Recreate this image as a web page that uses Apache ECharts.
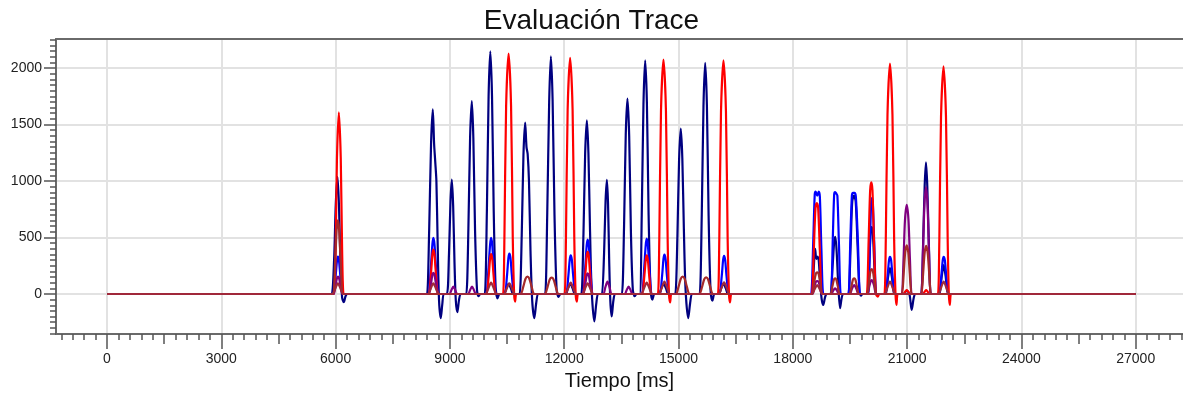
<!DOCTYPE html>
<html>
<head>
<meta charset="utf-8">
<script src="https://cdn.jsdelivr.net/npm/echarts@6/dist/echarts.min.js"></script>
<style>
html,body{margin:0;padding:0;background:#fff;}
#chart{width:1183px;height:396px;}
</style>
</head>
<body>
<div id="chart"></div>
<script>
// ---- texts ----
const tituloGrafico = 'Evaluación Trace';
const tituloEjeX = 'Tiempo [ms]';

// ---- tick labels ----
const xTicks = [0, 3000, 6000, 9000, 12000, 15000, 18000, 21000, 24000, 27000];
const xTicksMedios = [1500, 4500, 7500, 10500, 13500, 16500, 19500, 22500, 25500];
const yTicks = [0, 500, 1000, 1500, 2000];

// ---- series values: [tiempo ms, valor] ----
const serieAzulOscuro = [
[0,0],[5860,0],
[5900,0],[5960,300],[6005,800],[6050,1036],[6090,760],[6130,250],[6170,-30],[6215,-73],[6260,-20],[6300,0],
[6340,0],[8360,0],
[8400,0],[8455,560],[8505,1330],[8550,1635],[8585,1330],[8615,1170],[8645,1000],[8680,420],[8715,-60],[8760,-214],[8800,-90],[8840,0],
[8920,0],[8975,350],[9015,820],[9050,1012],[9085,780],[9120,280],[9155,-60],[9195,-161],[9240,-50],[9280,0],
[9320,0],[9390,0],
[9430,0],[9485,580],[9530,1390],[9575,1708],[9615,1380],[9660,560],[9710,40],[9750,-20],[9800,0],
[9840,0],[9875,0],
[9915,0],[9970,730],[10015,1750],[10060,2148],[10105,1750],[10150,730],[10200,60],[10250,-38],[10300,0],
[10340,0],[10380,0],
[10420,0],[10480,50],[10540,90],[10600,50],[10660,0],
[10700,0],[10790,0],
[10830,0],[10885,520],[10930,1230],[10975,1517],[11010,1300],[11040,1240],[11075,1000],[11115,380],[11160,-60],[11215,-214],[11265,-80],[11310,0],
[11350,0],[11460,0],
[11500,0],[11555,720],[11605,1700],[11650,2104],[11695,1720],[11745,700],[11800,40],[11850,-25],[11900,0],
[11940,0],[12000,0],
[12040,0],[12100,50],[12160,90],[12220,50],[12280,0],
[12320,0],[12410,0],
[12450,0],[12505,530],[12550,1250],[12595,1538],[12635,1250],[12675,600],[12720,40],[12790,-243],[12840,-90],[12885,0],
[12925,0],[12950,0],
[12990,0],[13045,350],[13085,820],[13120,1010],[13150,800],[13180,300],[13210,-60],[13245,-199],[13290,-60],[13330,0],
[13370,0],[13475,0],
[13515,0],[13570,590],[13615,1410],[13660,1729],[13705,1400],[13750,560],[13800,40],[13850,-20],[13900,0],
[13980,0],[14035,700],[14080,1680],[14125,2069],[14170,1690],[14215,700],[14265,50],[14315,-50],[14365,0],
[14405,0],[14450,0],
[14490,0],[14550,50],[14610,90],[14670,50],[14730,0],
[14770,0],[14875,0],
[14915,0],[14970,500],[15015,1190],[15060,1465],[15100,1200],[15140,580],[15185,40],[15255,-214],[15305,-80],[15350,0],
[15390,0],[15515,0],
[15555,0],[15610,700],[15655,1660],[15700,2046],[15745,1670],[15790,690],[15840,40],[15890,-60],[15940,0],
[15980,0],[16020,0],
[16060,0],[16120,50],[16180,90],[16240,50],[16300,0],
[16340,0],[18460,0],
[18500,0],[18545,200],[18585,400],[18620,310],[18660,330],[18710,150],[18755,-40],[18800,-97],[18845,-30],[18885,0],
[18925,0],[18950,0],
[18990,0],[19045,250],[19090,480],[19115,505],[19150,380],[19190,100],[19240,-126],[19285,-30],[19320,0],
[19360,0],[19420,0],
[19460,0],[19520,450],[19560,820],[19605,870],[19650,820],[19700,420],[19750,20],[19790,-15],[19830,0],
[19870,0],[19920,0],
[19960,0],[20010,300],[20045,560],[20070,593],[20100,540],[20140,250],[20190,0],
[20230,0],[20400,0],
[20440,0],[20500,150],[20550,230],[20600,150],[20660,0],
[20700,0],[20860,0],
[20900,0],[20990,30],[21060,0],[21120,-141],[21170,-40],[21210,0],
[21250,0],[21330,0],
[21370,0],[21420,450],[21460,950],[21495,1165],[21530,950],[21570,450],[21620,0],
[21660,0],[21810,0],
[21850,0],[21910,160],[21960,255],[22010,160],[22070,0],
[22110,0],[27000,0]
];

const serieAzul = [
[0,0],[5900,0],
[5940,0],[6000,160],[6035,290],[6060,330],[6090,290],[6125,160],[6185,0],[6225,0],
[8400,0],
[8440,0],[8500,240],[8540,440],[8565,496],[8595,440],[8635,240],[8695,0],[8735,0],
[9915,0],
[9955,0],[10015,240],[10055,440],[10080,496],[10110,440],[10150,240],[10210,0],[10250,0],
[10400,0],
[10440,0],[10500,170],[10535,320],[10560,358],[10590,320],[10625,170],[10685,0],[10725,0],
[12010,0],
[12050,0],[12110,165],[12145,305],[12170,343],[12200,305],[12235,165],[12295,0],[12335,0],
[12450,0],
[12490,0],[12550,230],[12590,430],[12615,481],[12645,430],[12685,230],[12745,0],[12785,0],
[14000,0],
[14040,0],[14100,235],[14140,435],[14165,490],[14195,435],[14235,235],[14295,0],[14335,0],
[14470,0],
[14510,0],[14570,165],[14605,310],[14630,349],[14660,310],[14695,165],[14755,0],[14795,0],
[16035,0],
[16075,0],[16135,160],[16170,300],[16195,338],[16225,300],[16260,160],[16320,0],[16360,0],
[18440,0],
[18480,0],[18535,450],[18575,880],[18600,907],[18640,870],[18680,907],[18710,860],[18750,400],[18800,0],[18840,0],
[18960,0],
[19000,0],[19050,500],[19085,880],[19110,901],[19140,890],[19170,870],[19210,450],[19260,0],[19300,0],
[19420,0],
[19460,0],[19510,480],[19550,870],[19580,895],[19620,895],[19655,860],[19710,450],[19765,0],[19805,0],
[19940,0],
[19980,0],[20025,450],[20055,800],[20075,848],[20100,800],[20140,420],[20190,0],[20230,0],
[20390,0],
[20430,0],[20490,170],[20525,300],[20550,329],[20580,300],[20615,170],[20675,0],[20715,0],
[21800,0],
[21840,0],[21900,170],[21935,300],[21960,329],[21990,300],[22025,170],[22085,0],[22125,0],
[27000,0]
];

const serieRoja = [
[0,0],[5920,0],
[5960,0],[6000,400],[6035,1200],[6085,1607],[6135,1200],[6170,400],[6210,0],[6250,0],
[8405,0],
[8445,0],[8505,190],[8540,350],[8565,393],[8595,350],[8630,190],[8690,0],[8730,0],
[9920,0],
[9960,0],[10020,170],[10055,315],[10080,352],[10110,315],[10145,170],[10205,0],[10245,0],
[10355,0],
[10395,0],[10430,490],[10475,1660],[10540,2128],[10605,1660],[10650,490],[10685,0],[10710,-67],[10740,0],[10780,0],
[11970,0],
[12010,0],[12045,480],[12090,1630],[12155,2090],[12220,1630],[12265,480],[12300,0],[12330,-67],[12360,0],
[12400,0],[12455,0],
[12495,0],[12555,180],[12590,335],[12615,373],[12645,335],[12680,180],[12740,0],[12780,0],
[14005,0],
[14045,0],[14105,165],[14140,305],[14165,343],[14195,305],[14230,165],[14290,0],[14330,0],
[14420,0],
[14460,0],[14495,475],[14540,1620],[14605,2075],[14670,1620],[14715,475],[14750,0],[14780,-75],[14810,0],[14850,0],
[15995,0],
[16035,0],[16070,475],[16115,1615],[16180,2069],[16245,1615],[16290,475],[16325,0],[16350,-75],[16385,0],[16425,0],
[18460,0],
[18500,0],[18550,380],[18595,760],[18630,805],[18665,760],[18710,380],[18760,0],[18800,0],
[19900,0],
[19940,0],[19990,470],[20030,920],[20060,989],[20090,920],[20130,470],[20180,0],[20230,-23],[20270,0],
[20310,0],[20365,0],
[20405,0],[20440,470],[20485,1590],[20550,2040],[20615,1590],[20660,470],[20695,0],[20720,-97],[20750,0],[20790,0],
[20860,0],
[20900,0],[20960,25],[20990,35],[21020,25],[21080,0],[21120,0],
[21370,0],
[21410,0],[21470,25],[21500,35],[21530,25],[21590,0],[21630,0],
[21770,0],
[21810,0],[21845,465],[21890,1570],[21955,2016],[22020,1570],[22065,465],[22095,0],[22120,-97],[22150,0],[22190,0],
[27000,0]
];

const seriePurpura = [
[0,0],[5910,0],
[5950,0],[6000,80],[6035,140],[6060,155],[6090,140],[6125,80],[6180,0],[6220,0],
[8410,0],
[8450,0],[8505,95],[8540,170],[8565,188],[8595,170],[8630,95],[8690,0],[8730,0],
[8950,0],
[8990,0],[9040,35],[9090,65],[9140,35],[9190,0],[9230,0],
[9440,0],
[9480,0],[9530,35],[9580,65],[9630,35],[9680,0],[9720,0],
[12460,0],
[12500,0],[12555,92],[12590,165],[12615,182],[12645,165],[12680,92],[12740,0],[12780,0],
[12990,0],
[13030,0],[13080,60],[13135,109],[13190,60],[13240,0],[13280,0],
[13550,0],
[13590,0],[13640,35],[13690,65],[13740,35],[13790,0],[13830,0],
[18480,0],
[18520,0],[18570,70],[18610,110],[18640,114],[18670,110],[18710,70],[18760,0],[18800,0],
[18970,0],
[19010,0],[19060,30],[19110,50],[19160,30],[19210,0],[19250,0],
[19460,0],
[19500,0],[19550,45],[19610,79],[19670,45],[19720,0],[19760,0],
[19920,0],
[19960,0],[20010,70],[20045,115],[20070,123],[20095,115],[20135,70],[20185,0],[20225,0],
[20820,0],
[20860,0],[20905,300],[20945,660],[20990,790],[21035,660],[21075,300],[21120,0],[21160,0],
[21330,0],
[21370,0],[21415,360],[21455,790],[21495,945],[21535,790],[21575,360],[21620,0],[21660,0],
[27000,0]
];

const serieMarron = [
[0,0],[5900,0],
[5940,0],[5990,300],[6030,580],[6060,651],[6090,580],[6130,300],[6180,0],[6220,0],
[10820,0],
[10860,0],[10930,70],[10985,135],[11035,153],[11085,135],[11140,70],[11210,0],[11250,0],
[11455,0],
[11495,0],[11565,65],[11620,128],[11670,144],[11720,128],[11775,65],[11845,0],[11885,0],
[14895,0],
[14935,0],[15005,70],[15060,135],[15110,153],[15160,135],[15215,70],[15285,0],[15325,0],
[15510,0],
[15550,0],[15620,65],[15675,130],[15725,147],[15775,130],[15830,65],[15900,0],[15940,0],
[18470,0],
[18510,0],[18560,100],[18605,180],[18640,191],[18675,180],[18720,100],[18770,0],[18810,0],
[18950,0],
[18990,0],[19040,70],[19080,130],[19110,138],[19140,130],[19180,70],[19230,0],[19270,0],
[19450,0],
[19490,0],[19540,70],[19580,130],[19610,138],[19640,130],[19680,70],[19730,0],[19770,0],
[19910,0],
[19950,0],[20000,110],[20040,205],[20070,220],[20100,205],[20140,110],[20190,0],[20230,0],
[20825,0],
[20865,0],[20910,180],[20950,370],[20990,431],[21030,370],[21070,180],[21115,0],[21155,0],
[21335,0],
[21375,0],[21420,180],[21460,365],[21500,426],[21540,365],[21580,180],[21625,0],[21665,0],
[27000,0]
];

const serieGranate = [
[0,0],[5880,0],
[5920,0],[5990,47],[6060,94],[6130,47],[6200,0],[6240,0],
[8385,0],
[8425,0],[8495,47],[8565,94],[8635,47],[8705,0],[8745,0],
[9900,0],
[9940,0],[10010,50],[10080,100],[10150,50],[10220,0],
[10260,0],[10380,0],
[10420,0],[10490,47],[10560,94],[10630,47],[10700,0],[10740,0],
[11990,0],
[12030,0],[12100,50],[12170,100],[12240,50],[12310,0],
[12350,0],[12435,0],
[12475,0],[12545,47],[12615,94],[12685,47],[12755,0],[12795,0],
[13985,0],
[14025,0],[14095,50],[14165,100],[14235,50],[14305,0],
[14345,0],[14450,0],
[14490,0],[14560,55],[14630,109],[14700,55],[14770,0],[14810,0],
[16015,0],
[16055,0],[16125,52],[16195,103],[16265,52],[16335,0],[16375,0],
[18460,0],
[18500,0],[18570,40],[18640,79],[18710,40],[18780,0],[18820,0],
[20370,0],
[20410,0],[20480,55],[20550,109],[20620,55],[20690,0],[20730,0],
[21780,0],
[21820,0],[21890,55],[21960,109],[22030,55],[22100,0],[22140,0],
[27000,0]
];

// ---- chart ----
const FONT = '"Liberation Sans", Arial, sans-serif';
const axisGray = '#6a6a6a';
const xMin = -1339, xMax = 28241;
const yMin = -355, yMax = 2257;
const plain = v => String(v);

function linea(nombre, datos, color) {
  return {
    name: nombre, type: 'line', data: datos, showSymbol: false, symbol: 'none',
    smooth: 0.3, lineStyle: { color: color, width: 2.2 }, itemStyle: { color: color },
    xAxisIndex: 0, yAxisIndex: 0
  };
}

const chart = echarts.init(document.getElementById('chart'), null, { renderer: 'canvas' });
chart.setOption({
  animation: false,
  backgroundColor: '#ffffff',
  textStyle: { fontFamily: FONT },
  title: {
    text: tituloGrafico, left: 'center', top: 2,
    textStyle: { fontSize: 28, fontWeight: 'normal', color: '#111', fontFamily: FONT }
  },
  grid: { left: 56, right: 0, top: 39, bottom: 59 },
  xAxis: [
    {
      type: 'value', min: xMin, max: xMax, splitNumber: 10, position: 'bottom',
      name: tituloEjeX, nameLocation: 'middle', nameGap: 33,
      nameTextStyle: { fontSize: 20, color: '#111', fontFamily: FONT },
      axisLine: { show: true, onZero: false, lineStyle: { color: axisGray, width: 2 } },
      axisTick: { show: true, customValues: xTicks, length: 15, lineStyle: { color: '#555', width: 1.5 } },
      minorTick: { show: true, splitNumber: 10, length: 6, lineStyle: { color: '#555', width: 1.5 } },
      axisLabel: { show: true, customValues: xTicks, formatter: plain, margin: 18, fontSize: 14, color: '#222', fontFamily: FONT },
      splitLine: { show: true, lineStyle: { color: '#e2e2e2', width: 2 } },
      minorSplitLine: { show: false }
    },
    {
      type: 'value', min: xMin, max: xMax, position: 'bottom', offset: 0,
      axisLine: { show: false, onZero: false },
      axisTick: { show: true, customValues: xTicksMedios, length: 10, lineStyle: { color: '#555', width: 1.5 } },
      axisLabel: { show: false }, splitLine: { show: false }
    },
    {
      type: 'value', min: xMin, max: xMax, position: 'top', offset: 0,
      axisLine: { show: true, onZero: false, lineStyle: { color: axisGray, width: 2 } },
      axisTick: { show: false }, axisLabel: { show: false }, splitLine: { show: false }
    }
  ],
  yAxis: [
    {
      type: 'value', min: yMin, max: yMax, splitNumber: 5, position: 'left',
      axisLine: { show: true, onZero: false, lineStyle: { color: axisGray, width: 2 } },
      axisTick: { show: true, customValues: yTicks, length: 12, lineStyle: { color: '#555', width: 1.5 } },
      minorTick: { show: true, splitNumber: 10, length: 6, lineStyle: { color: '#555', width: 1.5 } },
      axisLabel: { show: true, customValues: yTicks, formatter: plain, margin: 14, fontSize: 14, color: '#222', fontFamily: FONT },
      splitLine: { show: true, lineStyle: { color: '#e2e2e2', width: 2 } }
    }
  ],
  series: [
    linea('Canal 1', serieAzulOscuro, '#000080'),
    linea('Canal 2', serieAzul, '#0000ff'),
    linea('Canal 3', serieRoja, '#ff0000'),
    linea('Canal 4', seriePurpura, '#800080'),
    linea('Canal 5', serieMarron, '#a52a2a'),
    linea('Canal 6', serieGranate, '#a0283a')
  ]
});
</script>
</body>
</html>
